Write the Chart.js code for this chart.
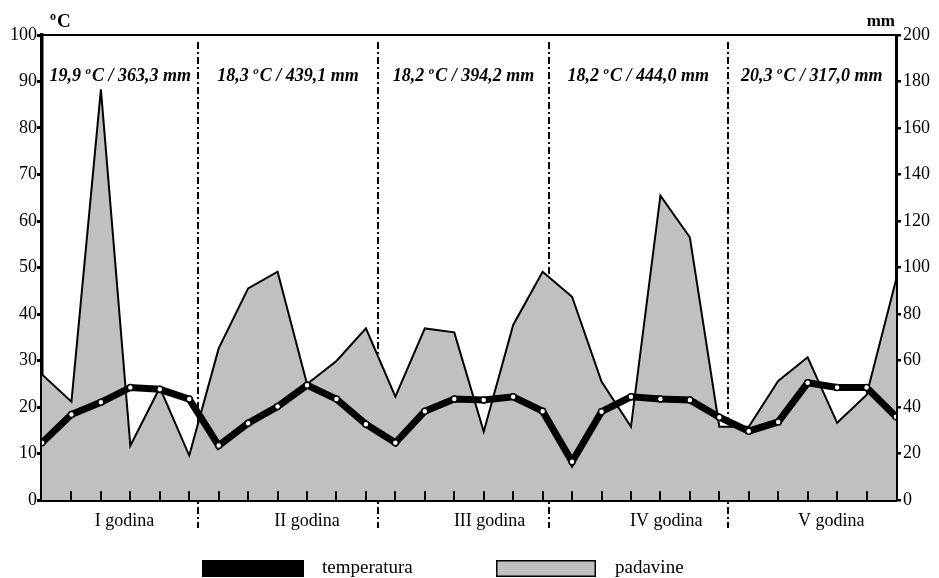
<!DOCTYPE html>
<html>
<head>
<meta charset="utf-8">
<script src="https://cdn.jsdelivr.net/npm/chart.js@4.4.1/dist/chart.umd.min.js"></script>
<style>
html,body{margin:0;padding:0;background:#fff;}
#wrap{width:939px;height:578px;position:relative;}
</style>
</head>
<body>
<div id="wrap"><canvas id="c"></canvas></div>
<script>
// ---- data ----
const periods = [0,1,2,3,4,5,6,7,8,9,10,11,12,13,14,15,16,17,18,19,20,21,22,23,24,25,26,27,28,29];
const temperature = [12.3,18.4,21.0,24.2,23.8,21.7, 11.7,16.5,20.1,24.7,21.7,16.3, 12.3,19.1,21.7,21.5,22.2,19.1, 8.2,19.0,22.2,21.7,21.5,17.8, 14.8,16.8,25.2,24.2,24.2,17.9];
const precipitation = [54.0,42.3,176.6,23.4,48.3,19.1, 65.2,91.0,98.2,49.9,59.8,73.8, 44.4,73.8,72.1,29.4,75.3,98.2, 87.4,50.9,31.5,130.9,113.0,31.5, 31.5,51.2,61.4,33.2,45.2,94.6];
const yearLabels = ['I godina','II godina','III godina','IV godina','V godina'];
const yearLabelPos = [2.8, 9.0, 15.2, 21.2, 26.8];
const yearDividers = [5.31, 11.40, 17.22, 23.28];
const yearSummaries = ['19,9 °C / 363,3 mm','18,3 °C / 439,1 mm','18,2 °C / 394,2 mm','18,2 °C / 444,0 mm','20,3 °C / 317,0 mm'];
const tempTicks = [0,10,20,30,40,50,60,70,80,90,100];
const precTicks = [0,20,40,60,80,100,120,140,160,180,200];
const unitLeft = '°C';
const unitRight = 'mm';

const SERIF = '"Liberation Serif", "Times New Roman", Times, serif';

// draw text where '°' is rendered as a raised small "o"
function drawDegText(ctx, str, x, y, size, weightStyle, align) {
  const parts = str.split('°');
  const big = weightStyle + ' ' + size + 'px ' + SERIF;
  const small = weightStyle + ' ' + Math.round(size * 0.62) + 'px ' + SERIF;
  ctx.font = big; const w1 = ctx.measureText(parts[0]).width;
  ctx.font = small; const wo = parts.length > 1 ? ctx.measureText('o').width + 1 : 0;
  ctx.font = big; const w2 = parts.length > 1 ? ctx.measureText(parts[1]).width : 0;
  const total = w1 + wo + w2;
  let sx = align === 'center' ? x - total / 2 : (align === 'right' ? x - total : x);
  ctx.textAlign = 'left'; ctx.textBaseline = 'alphabetic';
  ctx.font = big; ctx.fillText(parts[0], sx, y);
  if (parts.length > 1) {
    ctx.font = small; ctx.fillText('o', sx + w1, y - size * 0.38);
    ctx.font = big; ctx.fillText(parts[1], sx + w1 + wo, y);
  }
}

const overlay = {
  id: 'overlay',
  beforeDatasetsDraw(chart) {
    const ctx = chart.ctx, xs = chart.scales.x, a = chart.chartArea;
    ctx.save();
    ctx.strokeStyle = '#000'; ctx.lineWidth = 2; ctx.setLineDash([7,3,2,3]);
    yearDividers.forEach(v => {
      const px = Math.round(xs.getPixelForValue(v));
      ctx.beginPath(); ctx.moveTo(px, a.top + 7); ctx.lineTo(px, a.bottom + 28); ctx.stroke();
    });
    ctx.restore();
  },
  afterDatasetsDraw(chart) {
    const ctx = chart.ctx, xs = chart.scales.x, a = chart.chartArea;
    ctx.save();
    ctx.strokeStyle = '#000'; ctx.lineWidth = 2;
    periods.forEach(p => {
      if (p === periods[0] || p === periods[periods.length-1]) return;
      const px = Math.round(xs.getPixelForValue(p));
      ctx.beginPath(); ctx.moveTo(px, a.bottom); ctx.lineTo(px, a.bottom - 9); ctx.stroke();
    });
    ctx.restore();
  },
  afterDraw(chart) {
    const ctx = chart.ctx, xs = chart.scales.x, a = chart.chartArea;
    ctx.save();
    // top frame line
    ctx.strokeStyle = '#000'; ctx.lineWidth = 2;
    ctx.beginPath(); ctx.moveTo(a.left, a.top); ctx.lineTo(a.right, a.top); ctx.stroke();
    // yearly summaries
    ctx.fillStyle = '#000';
    const bounds = [xs.min].concat(yearDividers, [xs.max]);
    yearSummaries.forEach((s, i) => {
      const cx = xs.getPixelForValue((bounds[i] + bounds[i+1]) / 2);
      drawDegText(ctx, s, cx, a.top + 46, 18, 'italic bold', 'center');
    });
    // unit labels
    drawDegText(ctx, unitLeft, a.left + 8, a.top - 8, 19, 'bold', 'left');
    ctx.font = 'bold 17px ' + SERIF; ctx.textAlign = 'right'; ctx.textBaseline = 'alphabetic';
    ctx.fillText(unitRight, a.right - 1, a.top - 9);
    // legend
    const ds = chart.data.datasets;
    const items = [
      {x: 202, w: 102, fill: '#000', stroke: '#000', text: ds[0].label, tx: 322},
      {x: 496, w: 100, fill: '#c0c0c0', stroke: '#000', text: ds[1].label, tx: 615}
    ];
    const by = 560, bh = 17;
    items.forEach(it => {
      ctx.fillStyle = it.fill; ctx.fillRect(it.x, by, it.w, bh);
      ctx.strokeStyle = it.stroke; ctx.lineWidth = 1.5; ctx.strokeRect(it.x + 0.75, by + 0.75, it.w - 1.5, bh - 1.5);
      ctx.fillStyle = '#000'; ctx.font = '19px ' + SERIF; ctx.textAlign = 'left'; ctx.textBaseline = 'middle';
      ctx.fillText(it.text, it.tx, by + bh / 2);
    });
    ctx.restore();
  }
};

const chart = new Chart(document.getElementById('c'), {
  type: 'line',
  data: {
    datasets: [
      {
        label: 'temperatura', yAxisID: 'y',
        data: periods.map((p, i) => ({x: p, y: temperature[i]})),
        borderColor: '#000', borderWidth: 7, tension: 0, fill: false,
        pointRadius: 3, pointBorderWidth: 1.5, pointBackgroundColor: '#fff', pointBorderColor: '#000',
        order: 0
      },
      {
        label: 'padavine', yAxisID: 'y1',
        data: periods.map((p, i) => ({x: p, y: precipitation[i]})),
        borderColor: '#000', borderWidth: 2, tension: 0, fill: 'origin',
        backgroundColor: '#c0c0c0', pointRadius: 0,
        order: 1
      }
    ]
  },
  options: {
    responsive: true, maintainAspectRatio: false, animation: false, devicePixelRatio: 1,
    layout: {padding: {top: 35, left: 0, right: 0, bottom: 0}},
    plugins: {legend: {display: false}, tooltip: {enabled: false}, title: {display: false}},
    scales: {
      x: {
        type: 'linear', position: 'bottom', min: periods[0], max: periods[periods.length-1],
        grid: {display: false, drawTicks: false},
        border: {display: true, color: '#000', width: 3},
        ticks: {font: {family: SERIF, size: 18}, color: '#000', padding: 10, autoSkip: false, maxRotation: 0,
          callback: (v, i) => yearLabels[i]},
        afterBuildTicks: ax => { ax.ticks = yearLabelPos.map(v => ({value: v})); },
        afterFit: ax => { ax.height = 78; }
      },
      y: {
        position: 'left', min: 0, max: 100,
        afterBuildTicks: ax => { ax.ticks = tempTicks.map(v => ({value: v})); },
        ticks: {font: {family: SERIF, size: 18}, color: '#000', padding: 0},
        grid: {drawOnChartArea: false, drawTicks: true, tickLength: 5, lineWidth: 3, color: '#000'},
        border: {display: true, color: '#000', width: 3.5},
        afterFit: ax => { ax.width = 42; }
      },
      y1: {
        position: 'right', min: 0, max: 200,
        afterBuildTicks: ax => { ax.ticks = precTicks.map(v => ({value: v})); },
        ticks: {font: {family: SERIF, size: 18}, color: '#000', padding: 2},
        grid: {drawOnChartArea: false, drawTicks: true, tickLength: 5, lineWidth: 2.5, color: '#000'},
        border: {display: true, color: '#000', width: 3},
        afterFit: ax => { ax.width = 43; }
      }
    }
  },
  plugins: [overlay]
});
</script>
</body>
</html>
